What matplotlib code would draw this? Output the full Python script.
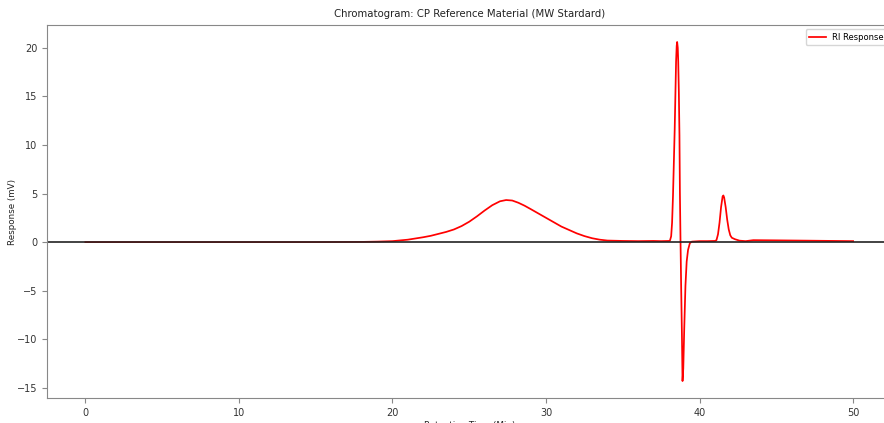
import matplotlib
matplotlib.use("Agg")
import matplotlib.pyplot as plt

# Retention time (min) and RI response (mV)
time_min = [0, 5, 10, 15, 18, 19, 20, 21, 22, 22.5, 23, 23.5, 24, 24.5, 25, 25.5, 26, 26.5,
            27, 27.4, 27.8, 28.2, 28.6, 29, 29.5, 30, 30.5, 31, 31.5, 32, 32.5, 33, 33.5,
            34, 35, 36, 37, 37.5, 38.0,
            38.07, 38.15, 38.21, 38.27, 38.33, 38.38, 38.43, 38.47, 38.51, 38.54, 38.58,
            38.61, 38.65, 38.69, 38.72, 38.76, 38.8, 38.85, 38.89, 38.94, 39.0, 39.08,
            39.16, 39.25, 39.37, 39.5,
            40.0, 40.5, 41.0, 41.1, 41.2, 41.3, 41.4, 41.5, 41.55, 41.6, 41.7, 41.8,
            41.9, 42.0, 42.1, 42.3, 42.6, 43.0, 43.5, 45, 47, 50]
response_mv = [0, 0, 0, 0, 0.02, 0.05, 0.1, 0.25, 0.5, 0.65, 0.85, 1.05, 1.3, 1.65, 2.1, 2.65, 3.25, 3.8,
               4.2, 4.33, 4.28, 4.05, 3.75, 3.4, 2.95, 2.5, 2.05, 1.6, 1.25, 0.9, 0.62, 0.4, 0.25,
               0.16, 0.12, 0.1, 0.12, 0.1, 0.12,
               0.15, 0.6, 2.0, 4.8, 8.5, 11.6, 15.5, 18.6, 20.2, 20.6, 20.0,
               18.6, 15.5, 11.0, 5.0, 0.0, -4.5, -9.5, -14.3, -13.0, -9.0, -4.5,
               -2.0, -0.8, -0.1, 0.05,
               0.1, 0.1, 0.12, 0.2, 0.8, 2.0, 3.6, 4.7, 4.8, 4.6, 3.6, 2.3,
               1.3, 0.7, 0.45, 0.3, 0.15, 0.1, 0.2, 0.18, 0.15, 0.1]

title = "Chromatogram: CP Reference Material (MW Stardard)"
series_label = "RI Response"

plt.rcParams['font.family'] = ['DejaVu Sans']
fig = plt.figure(figsize=(8.84, 4.23), dpi=100)
ax = fig.add_axes([47/884, (423-398)/423, (891.5-47)/884, (398-25)/423])
ax.plot(time_min, response_mv, color='red', lw=1.25, label=series_label)
ax.axhline(0, color='#222222', lw=1.2)
ax.set_title(title, fontsize=7.3, color='#222222')
ax.set_xlabel("Retention Time (Min)", fontsize=6.3, labelpad=2, color='#222222')
ax.set_ylabel("Response (mV)", fontsize=6.3, labelpad=0, color='#222222')
ax.tick_params(labelsize=7, colors='#333333')
ax.tick_params(color='#888888')
for s in ax.spines.values():
    s.set_color('#888888')
ax.legend(loc='upper right', fontsize=6)
fig.savefig("out.png", dpi=100)
